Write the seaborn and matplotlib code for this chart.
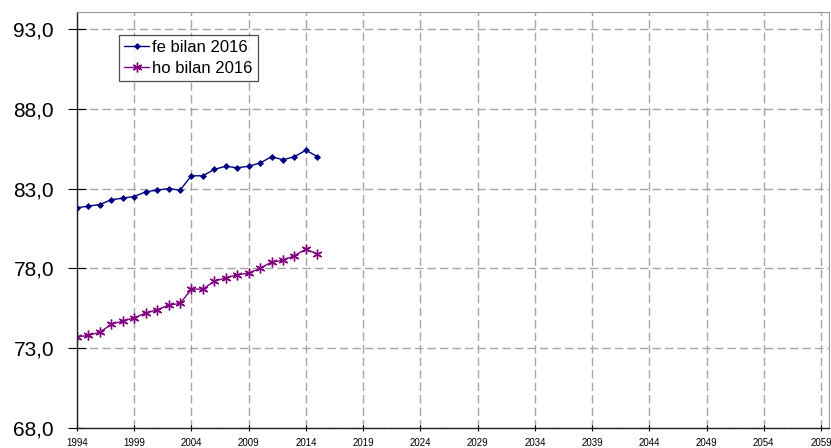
import matplotlib
matplotlib.use("Agg")
import matplotlib.pyplot as plt
from matplotlib.ticker import FuncFormatter
import seaborn as sns
import pandas as pd

years = list(range(1994, 2016))
fe_bilan_2016 = [81.8, 81.9, 82.0, 82.3, 82.4, 82.5, 82.8, 82.9, 83.0, 82.9, 83.8,
                 83.8, 84.2, 84.4, 84.3, 84.4, 84.6, 85.0, 84.8, 85.0, 85.4, 85.0]
ho_bilan_2016 = [73.7, 73.8, 74.0, 74.5, 74.7, 74.9, 75.2, 75.4, 75.7, 75.8, 76.7,
                 76.7, 77.2, 77.4, 77.6, 77.7, 78.0, 78.4, 78.5, 78.8, 79.2, 78.9]
series_names = ["fe bilan 2016", "ho bilan 2016"]
x_ticks = list(range(1994, 2060, 5))
y_ticks = [68, 73, 78, 83, 88, 93]

sns.set_style("white")
plt.rcParams["font.family"] = ["Liberation Sans", "DejaVu Sans"]
plt.rcParams["text.color"] = "black"
plt.rcParams["xtick.color"] = "black"
plt.rcParams["ytick.color"] = "black"

fig = plt.figure(figsize=(8.31, 4.48), dpi=100)
ax = fig.add_axes([77 / 831, 1 - 428 / 448, (829 - 77) / 831, (428 - 12) / 448])

fe_df = pd.DataFrame({"annee": years, "valeur": fe_bilan_2016})
ho_df = pd.DataFrame({"annee": years, "valeur": ho_bilan_2016})

sns.lineplot(data=fe_df, x="annee", y="valeur", color="#000080", marker="D",
             markersize=3, markeredgewidth=0.6, markeredgecolor="#000080",
             linewidth=1.0, label=series_names[0], ax=ax)
sns.lineplot(data=ho_df, x="annee", y="valeur", color="#800080", marker=(6, 2, 0),
             markersize=7, markeredgewidth=1.0, markeredgecolor="#800080",
             linewidth=1.0, label=series_names[1], ax=ax)

ax.set_xlim(1994, 2059.7)
ax.set_ylim(68, 94.06)
ax.set_xticks(x_ticks)
ax.set_yticks(y_ticks)
ax.yaxis.set_major_formatter(FuncFormatter(lambda v, p: f"{v:.1f}".replace(".", ",")))
ax.tick_params(axis="y", labelsize=15, length=13, width=0.8, direction="inout",
               left=True, pad=10, colors="black")
ax.tick_params(axis="x", labelsize=7, length=5, width=0.8, direction="inout",
               bottom=True, pad=4.5, colors="black")

ax.grid(True, which="major", color="#a6a6a6", linestyle=(0, (6, 3)), linewidth=1.0)
ax.set_axisbelow(True)
ax.set_xlabel("")
ax.set_ylabel("")

for side in ("left", "bottom"):
    ax.spines[side].set_color("#222222")
    ax.spines[side].set_linewidth(1.0)
for side in ("top", "right"):
    ax.spines[side].set_color("#9a9a9a")
    ax.spines[side].set_linewidth(0.8)

handles, labels = ax.get_legend_handles_labels()
leg = ax.legend(handles, labels, loc="upper left", bbox_to_anchor=(42 / 752, 1 - 23 / 416),
                fontsize=12, frameon=True, fancybox=False, edgecolor="#222222",
                borderpad=0.3, handlelength=1.5, handletextpad=0.2, labelspacing=0.35,
                borderaxespad=0)
leg.get_frame().set_linewidth(0.9)

fig.savefig("out.png", dpi=100)
